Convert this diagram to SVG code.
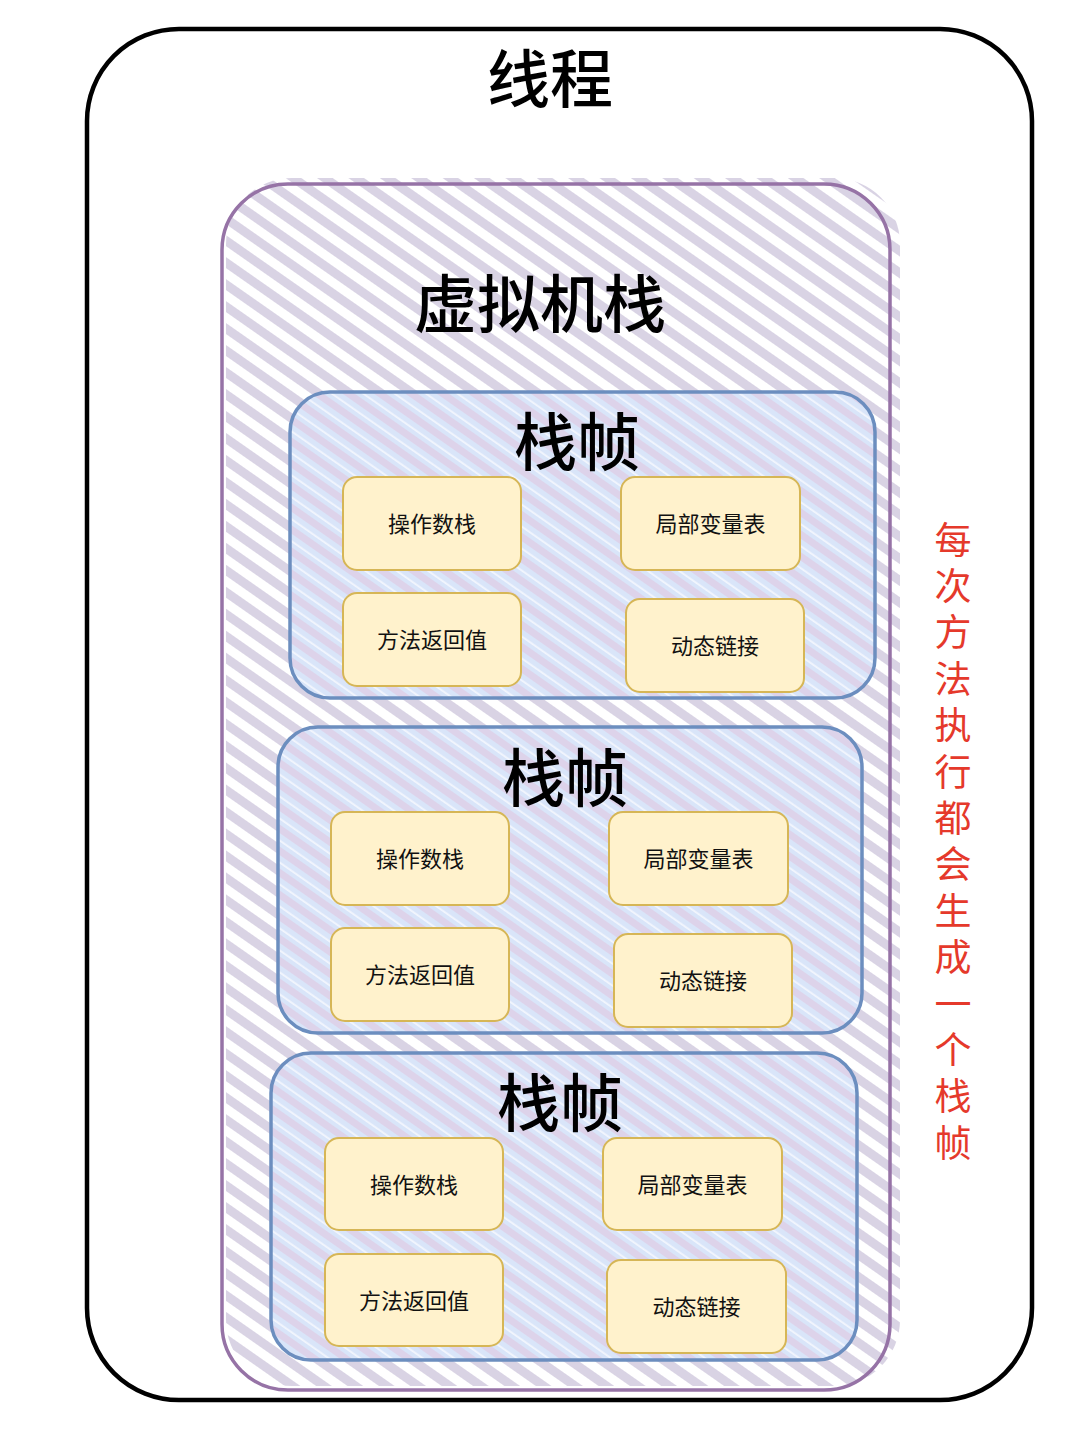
<svg xmlns="http://www.w3.org/2000/svg" width="1080" height="1437" viewBox="0 0 1080 1437">
<defs>
<pattern id="hatchP" width="18" height="18" patternUnits="userSpaceOnUse" patternTransform="rotate(-55)">
<rect x="0" y="0" width="9" height="18" fill="#d9d3e4"/>
</pattern>
<pattern id="hatchB" width="18" height="18" patternUnits="userSpaceOnUse" patternTransform="rotate(-55)">
<rect x="0" y="0" width="18" height="18" fill="#d9e5f9"/>
<rect x="0" y="0" width="7" height="18" fill="#ddd3ea"/>
<rect x="11" y="0" width="1.8" height="18" fill="#f3f6fd"/>
</pattern>
<style>
.title{font-family:"Noto Sans CJK SC","Noto Sans",sans-serif;font-size:63px;font-weight:500;fill:#000;text-anchor:middle;dominant-baseline:central}
.frame{fill:url(#hatchB);stroke:#6c8ebf;stroke-width:3.5}
.item rect{fill:#fff2cc;stroke:#d6b656;stroke-width:2}
.item text{font-family:"Noto Sans CJK SC","Noto Sans",sans-serif;font-size:22px;fill:#111;text-anchor:middle;dominant-baseline:central}
.note{font-family:"Noto Sans CJK SC","Noto Sans",sans-serif;font-size:37px;fill:#e5392b;writing-mode:vertical-rl;letter-spacing:9.4px}
</style>
</defs>
<rect width="1080" height="1437" fill="#ffffff"/>
<g id="thread">
<rect x="87" y="29" width="945" height="1371" rx="92" ry="92" fill="#ffffff" stroke="#000000" stroke-width="4.5"/>
<text class="title" x="550" y="74">线程</text>
</g>
<g id="vmstack">
<rect x="226" y="178" width="674" height="1208" rx="66" ry="66" fill="url(#hatchP)"/>
<rect x="222" y="184" width="668" height="1206" rx="66" ry="66" fill="none" stroke="#9673a6" stroke-width="3.5"/>
<text class="title" x="540" y="299">虚拟机栈</text>
</g>
<g id="frame1">
<rect class="frame" x="290" y="392" width="585" height="306" rx="40" ry="40"/>
<text class="title" x="577" y="437">栈帧</text>
<g class="item" id="f1-operand"><rect x="343" y="477" width="178" height="93" rx="14"/><text x="432" y="522">操作数栈</text></g>
<g class="item" id="f1-local"><rect x="621" y="477" width="179" height="93" rx="14"/><text x="710.5" y="522">局部变量表</text></g>
<g class="item" id="f1-return"><rect x="343" y="593" width="178" height="93" rx="14"/><text x="432" y="638">方法返回值</text></g>
<g class="item" id="f1-link"><rect x="626" y="599" width="178" height="93" rx="14"/><text x="715" y="644">动态链接</text></g>
</g>
<g id="frame2">
<rect class="frame" x="278" y="727" width="584" height="306" rx="40" ry="40"/>
<text class="title" x="565" y="773">栈帧</text>
<g class="item" id="f2-operand"><rect x="331" y="812" width="178" height="93" rx="14"/><text x="420" y="857">操作数栈</text></g>
<g class="item" id="f2-local"><rect x="609" y="812" width="179" height="93" rx="14"/><text x="698.5" y="857">局部变量表</text></g>
<g class="item" id="f2-return"><rect x="331" y="928" width="178" height="93" rx="14"/><text x="420" y="973">方法返回值</text></g>
<g class="item" id="f2-link"><rect x="614" y="934" width="178" height="93" rx="14"/><text x="703" y="979">动态链接</text></g>
</g>
<g id="frame3">
<rect class="frame" x="271" y="1053" width="586" height="307" rx="40" ry="40"/>
<text class="title" x="560" y="1098">栈帧</text>
<g class="item" id="f3-operand"><rect x="325" y="1138" width="178" height="92" rx="14"/><text x="414" y="1182.5">操作数栈</text></g>
<g class="item" id="f3-local"><rect x="603" y="1138" width="179" height="92" rx="14"/><text x="692.5" y="1182.5">局部变量表</text></g>
<g class="item" id="f3-return"><rect x="325" y="1254" width="178" height="92" rx="14"/><text x="414" y="1298.5">方法返回值</text></g>
<g class="item" id="f3-link"><rect x="607" y="1260" width="179" height="93" rx="14"/><text x="696.5" y="1305">动态链接</text></g>
</g>
<g id="note">
<text class="note" x="953" y="521">每次方法执行都会生成一个栈帧</text>
</g>
<g id="connectors"/>
</svg>
